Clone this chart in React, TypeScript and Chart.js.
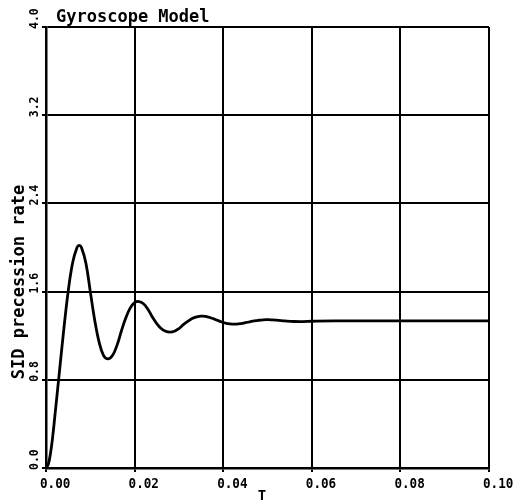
import React, { useEffect, useRef } from "react";
import { Chart, registerables } from "chart.js";

Chart.register(...registerables);

const titleText = "Gyroscope Model";
const xAxisTitle = "T";
const yAxisTitle = "SID precession rate";
const xTickLabels = ["0.00", "0.02", "0.04", "0.06", "0.08", "0.10"];
const yTickLabels = ["0.0", "0.8", "1.6", "2.4", "3.2", "4.0"];

const timeValues = [
  0, 0.0005, 0.001, 0.0015, 0.002, 0.003, 0.004, 0.005, 0.006, 0.007, 0.0075, 0.008, 0.009,
  0.010, 0.011, 0.012, 0.013, 0.014, 0.015, 0.016, 0.017, 0.018, 0.019, 0.020, 0.021, 0.022,
  0.023, 0.024, 0.025, 0.026, 0.027, 0.028, 0.029, 0.030, 0.031, 0.032, 0.033, 0.034, 0.035,
  0.036, 0.037, 0.038, 0.039, 0.040, 0.041, 0.042, 0.043, 0.044, 0.045, 0.046, 0.047, 0.048,
  0.049, 0.050, 0.052, 0.054, 0.056, 0.058, 0.060, 0.065, 0.070, 0.080, 0.090, 0.100,
];
const rateValues = [
  0, 0.03, 0.13, 0.28, 0.47, 0.86, 1.25, 1.6, 1.86, 2.0, 2.02, 2.0, 1.86,
  1.6, 1.34, 1.14, 1.02, 0.99, 1.02, 1.11, 1.24, 1.36, 1.45, 1.5, 1.51, 1.49,
  1.44, 1.37, 1.31, 1.265, 1.24, 1.232, 1.24, 1.265, 1.3, 1.33, 1.355, 1.37, 1.378,
  1.375, 1.365, 1.35, 1.335, 1.32, 1.31, 1.305, 1.305, 1.31, 1.318, 1.326, 1.334, 1.34,
  1.344, 1.345, 1.341, 1.334, 1.329, 1.328, 1.331, 1.335, 1.334, 1.335, 1.335, 1.335,
];

const MONO = '"DejaVu Sans Mono", monospace';

const labelsPlugin = {
  id: "plotterLabels",
  afterDraw(chart: any) {
    const ctx = chart.ctx as CanvasRenderingContext2D;
    const xs = chart.scales.x;
    const ys = chart.scales.y;
    const area = chart.chartArea;
    ctx.save();
    ctx.fillStyle = "#000";
    // title
    ctx.font = `bold 17px ${MONO}`;
    ctx.textAlign = "left";
    ctx.textBaseline = "alphabetic";
    ctx.fillText(titleText, 56, 22);
    // x tick labels
    ctx.font = `bold 14px ${MONO}`;
    ctx.textBaseline = "middle";
    xTickLabels.forEach((lab) => {
      const px = xs.getPixelForValue(parseFloat(lab));
      ctx.save();
      ctx.translate(px - 6, area.bottom + 16);
      ctx.scale(0.9, 1);
      ctx.textAlign = "left";
      ctx.fillText(lab, 0, 0);
      ctx.restore();
    });
    // x axis title
    ctx.textAlign = "center";
    ctx.fillText(xAxisTitle, 262, area.bottom + 28);
    // y tick labels (rotated)
    ctx.font = `bold 13px ${MONO}`;
    yTickLabels.forEach((lab) => {
      const py = ys.getPixelForValue(parseFloat(lab));
      ctx.save();
      ctx.translate(area.left - 11, py + 2);
      ctx.rotate(-Math.PI / 2);
      ctx.scale(0.88, 1);
      ctx.textAlign = "left";
      ctx.textBaseline = "middle";
      ctx.fillText(lab, 0, 0);
      ctx.restore();
    });
    // y axis title
    ctx.font = `bold 17px ${MONO}`;
    ctx.save();
    ctx.translate(20, 282);
    ctx.rotate(-Math.PI / 2);
    ctx.textAlign = "center";
    ctx.textBaseline = "middle";
    ctx.fillText(yAxisTitle, 0, 0);
    ctx.restore();
    ctx.restore();
  },
};

export default function App() {
  const canvasRef = useRef<HTMLCanvasElement | null>(null);

  useEffect(() => {
    if (!canvasRef.current) return;
    const points = timeValues.map((t, i) => ({ x: t, y: rateValues[i] }));
    const chart = new Chart(canvasRef.current, {
      type: "line",
      data: {
        datasets: [
          {
            data: points,
            borderColor: "#000",
            borderWidth: 2.8,
            pointRadius: 0,
            fill: false,
            tension: 0.4,
          },
        ],
      },
      options: {
        animation: false,
        responsive: false,
        maintainAspectRatio: false,
        layout: { padding: { left: 42, top: 27, right: 25, bottom: 30 } },
        plugins: {
          legend: { display: false },
          tooltip: { enabled: false },
          title: { display: false },
        },
        scales: {
          x: {
            type: "linear",
            min: 0,
            max: 0.1,
            ticks: { display: false, stepSize: 0.02 },
            grid: { color: "#000", lineWidth: 2, drawTicks: true, tickLength: 4 },
            border: { color: "#000", width: 2.5 },
          },
          y: {
            type: "linear",
            min: 0,
            max: 4,
            ticks: { display: false, stepSize: 0.8 },
            grid: { color: "#000", lineWidth: 2, drawTicks: true, tickLength: 4 },
            border: { color: "#000", width: 2.5 },
          },
        },
      },
      plugins: [labelsPlugin],
    });
    return () => chart.destroy();
  }, []);

  return (
    <div style={{ position: "fixed", left: 0, top: 0, width: 514, height: 502, background: "#fff" }}>
      <canvas ref={canvasRef} width={514} height={502} style={{ width: 514, height: 502 }} />
    </div>
  );
}
